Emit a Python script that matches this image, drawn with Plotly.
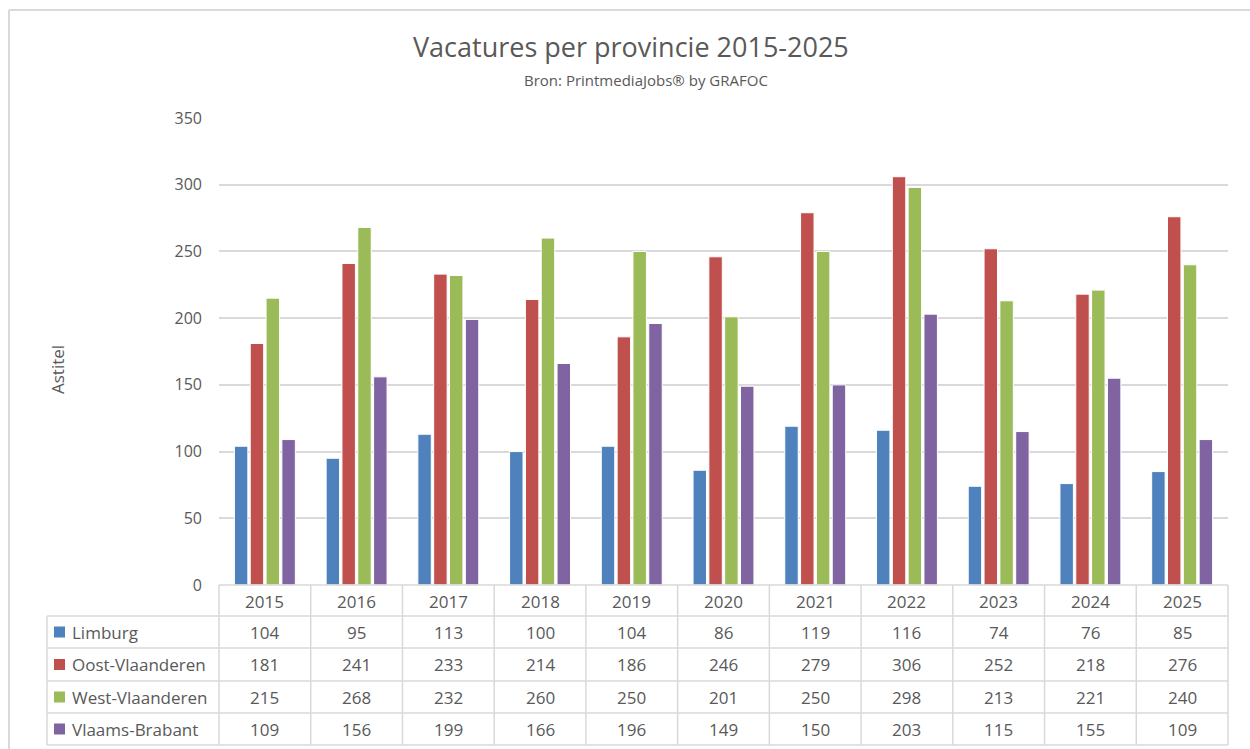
import plotly.graph_objects as go

years = ["2015", "2016", "2017", "2018", "2019", "2020", "2021", "2022", "2023", "2024", "2025"]
limburg = [104, 95, 113, 100, 104, 86, 119, 116, 74, 76, 85]
oost_vlaanderen = [181, 241, 233, 214, 186, 246, 279, 306, 252, 218, 276]
west_vlaanderen = [215, 268, 232, 260, 250, 201, 250, 298, 213, 221, 240]
vlaams_brabant = [109, 156, 199, 166, 196, 149, 150, 203, 115, 155, 109]

series_names = ["Limburg", "Oost-Vlaanderen", "West-Vlaanderen", "Vlaams-Brabant"]
series_values = [limburg, oost_vlaanderen, west_vlaanderen, vlaams_brabant]
colors = ["#4F81BD", "#C0504D", "#9BBB59", "#8064A2"]

W, H = 1250, 749
L, R = 219, 1228
T, B = 118, 585
TXT = "#595959"
GRID = "#D9D9D9"
FONT = "Open Sans"

def px(x):
    return (x - L) / (R - L)

def py(y):
    return (B - y) / (B - T)

fig = go.Figure()
for name, vals, c in zip(series_names, series_values, colors):
    fig.add_trace(go.Bar(x=years, y=vals, name=name, marker=dict(color=c, line=dict(color="white", width=1)),
                         showlegend=False))

shapes = []
annotations = []

def label(x, y, text, size, **kw):
    d = dict(x=px(x), y=py(y), xref="paper", yref="paper", text=text, showarrow=False,
             xanchor="center", yanchor="middle", font=dict(size=size, color=TXT, family=FONT))
    d.update(kw)
    annotations.append(d)

# outer chart border
shapes.append(dict(type="line", xref="paper", yref="paper", x0=px(9), x1=px(1252), y0=py(10), y1=py(10),
                   line=dict(color=GRID, width=2)))
shapes.append(dict(type="line", xref="paper", yref="paper", x0=px(9), x1=px(9), y0=py(10), y1=py(751),
                   line=dict(color=GRID, width=2)))

row_y = [585, 616, 648, 681, 713, 745]
n = len(years)
# horizontal table lines
shapes.append(dict(type="line", xref="paper", yref="paper", x0=px(L), x1=px(R), y0=py(row_y[0]), y1=py(row_y[0]),
                   line=dict(color=GRID, width=1.5)))
for yy in row_y[1:]:
    shapes.append(dict(type="line", xref="paper", yref="paper", x0=px(47), x1=px(R), y0=py(yy), y1=py(yy),
                       line=dict(color=GRID, width=1.5)))
# vertical table lines
for i in range(n + 1):
    xx = L + (R - L) * i / n
    shapes.append(dict(type="line", xref="paper", yref="paper", x0=px(xx), x1=px(xx), y0=py(row_y[0]), y1=py(row_y[-1]),
                       line=dict(color=GRID, width=1.5)))
shapes.append(dict(type="line", xref="paper", yref="paper", x0=px(47), x1=px(47), y0=py(row_y[1]), y1=py(row_y[-1]),
                   line=dict(color=GRID, width=1.5)))

# header year labels
for i, yr in enumerate(years):
    cx = L + (R - L) * (i + 0.5) / n
    label(cx, (row_y[0] + row_y[1]) / 2 + 1, yr, 17)
# rows
for r, (name, vals, c) in enumerate(zip(series_names, series_values, colors)):
    ymid = (row_y[r + 1] + row_y[r + 2]) / 2
    shapes.append(dict(type="rect", xref="paper", yref="paper", x0=px(54), x1=px(65), y0=py(ymid - 5.5), y1=py(ymid + 5.5),
                       fillcolor=c, line=dict(width=0)))
    label(70, ymid, name, 17, xanchor="left")
    for i, v in enumerate(vals):
        cx = L + (R - L) * (i + 0.5) / n
        label(cx, ymid, str(v), 17)

# axis title
label(57, 370, "Astitel", 17, textangle=-90)
# title & subtitle
label(631, 47, "Vacatures per provincie 2015-2025", 27)
label(646, 80, "Bron: PrintmediaJobs® by GRAFOC", 15)

fig.update_layout(
    width=W, height=H,
    margin=dict(l=L, r=W - R, t=T, b=H - B),
    paper_bgcolor="white", plot_bgcolor="white",
    barmode="group", bargap=0.31, bargroupgap=0.15,
    shapes=shapes, annotations=annotations,
    xaxis=dict(showticklabels=False, showgrid=False, showline=False, zeroline=False, ticks=""),
    yaxis=dict(range=[0, 350], dtick=50, showgrid=True, gridcolor=GRID, gridwidth=1.5, zeroline=False,
               showline=False, ticks="", ticklabelstandoff=16,
               tickfont=dict(size=16, color=TXT, family=FONT)),
    font=dict(family=FONT, color=TXT),
)

fig.write_html("out.html", config={"displayModeBar": False},
               post_script="document.body.style.margin='0';document.body.style.overflow='hidden';")
